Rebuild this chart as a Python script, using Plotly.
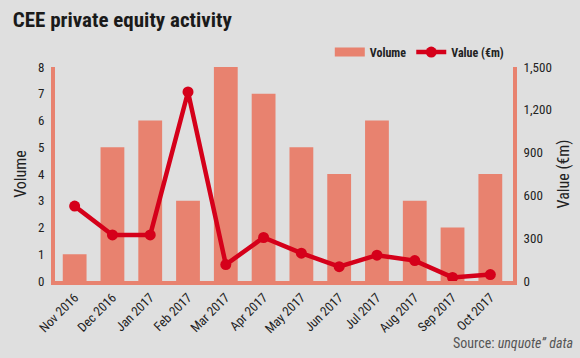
import plotly.graph_objects as go

months = ["Nov 2016", "Dec 2016", "Jan 2017", "Feb 2017", "Mar 2017", "Apr 2017",
          "May 2017", "Jun 2017", "Jul 2017", "Aug 2017", "Sep 2017", "Oct 2017"]
volume = [1, 5, 6, 3, 8, 7, 5, 4, 6, 3, 2, 4]
value_eur_m = [525, 323, 323, 1325, 115, 305, 195, 100, 181, 143, 25, 45]

left_ticks = [0, 1, 2, 3, 4, 5, 6, 7, 8]
right_ticks = [0, 300, 600, 900, 1200, 1500]
right_tick_labels = ["0", "300", "600", "900", "1,200", "1,500"]

BAR = "#e8826f"
LINE = "#d5001a"
BG = "#dfdfdf"
FONT = "Roboto Condensed, DejaVu Sans Condensed, sans-serif"

x_idx = list(range(len(months)))

fig = go.Figure()
fig.add_trace(go.Bar(x=x_idx, y=volume, name="Volume", showlegend=False,
                     marker=dict(color=BAR, line=dict(width=0)), width=0.63, yaxis="y"))
# legend entry for the bars, drawn as a wide swatch
fig.add_trace(go.Scatter(x=[None], y=[None], name="Volume", mode="lines",
                         line=dict(color=BAR, width=9), yaxis="y"))
fig.add_trace(go.Scatter(x=x_idx, y=value_eur_m, name="Value (€m)",
                         mode="lines+markers", line=dict(color=LINE, width=4.5),
                         marker=dict(color=LINE, size=11), yaxis="y2"))

fig.update_layout(
    width=580, height=358,
    paper_bgcolor=BG, plot_bgcolor=BG,
    margin=dict(l=55, r=67, t=67, b=77),
    font=dict(family=FONT, size=13, color="#222"),
    showlegend=True,
    legend=dict(orientation="h", x=0.6, xanchor="left", y=1.07, yanchor="middle",
                font=dict(family=FONT, size=12, color="#222", weight="bold"),
                bgcolor="rgba(0,0,0,0)", traceorder="normal", itemwidth=30),
    title=dict(text="<b>CEE private equity activity</b>", x=0.022, xanchor="left",
               y=0.945, yanchor="middle",
               font=dict(family=FONT, size=21, color="#1a1a1a")),
    xaxis=dict(tickmode="array", tickvals=x_idx, ticktext=months,
               tickangle=-45, range=[-0.52, 11.6], showgrid=False, zeroline=False,
               showline=True, linecolor=BAR, linewidth=4, ticks="", automargin=False,
               tickfont=dict(family=FONT, size=13, color="#222")),
    yaxis=dict(title=dict(text="Volume", font=dict(family=FONT, size=16, color="#222"), standoff=8),
               range=[0, 8], tickvals=left_ticks, showgrid=False, zeroline=False,
               showline=True, linecolor=BAR, linewidth=4, ticks="", automargin=False,
               ticklabelstandoff=4, tickfont=dict(family=FONT, size=13, color="#222")),
    yaxis2=dict(title=dict(text="Value (€m)", font=dict(family=FONT, size=16, color="#222"), standoff=8),
                overlaying="y", side="right", range=[0, 1500], tickvals=right_ticks,
                ticktext=right_tick_labels, showgrid=False, zeroline=False, automargin=False,
                showline=True, linecolor=BAR, linewidth=4, ticks="",
                ticklabelstandoff=4, tickfont=dict(family=FONT, size=13, color="#222")),
    annotations=[dict(text="Source: <i>unquote” data</i>", xref="paper", yref="paper",
                      x=1.135, y=-0.29, xanchor="right", yanchor="middle", showarrow=False,
                      font=dict(family=FONT, size=14, color="#555"))],
    bargap=0.37,
)

fig.write_html("out.html", config={"displayModeBar": False},
               post_script="document.body.style.margin='0';")
